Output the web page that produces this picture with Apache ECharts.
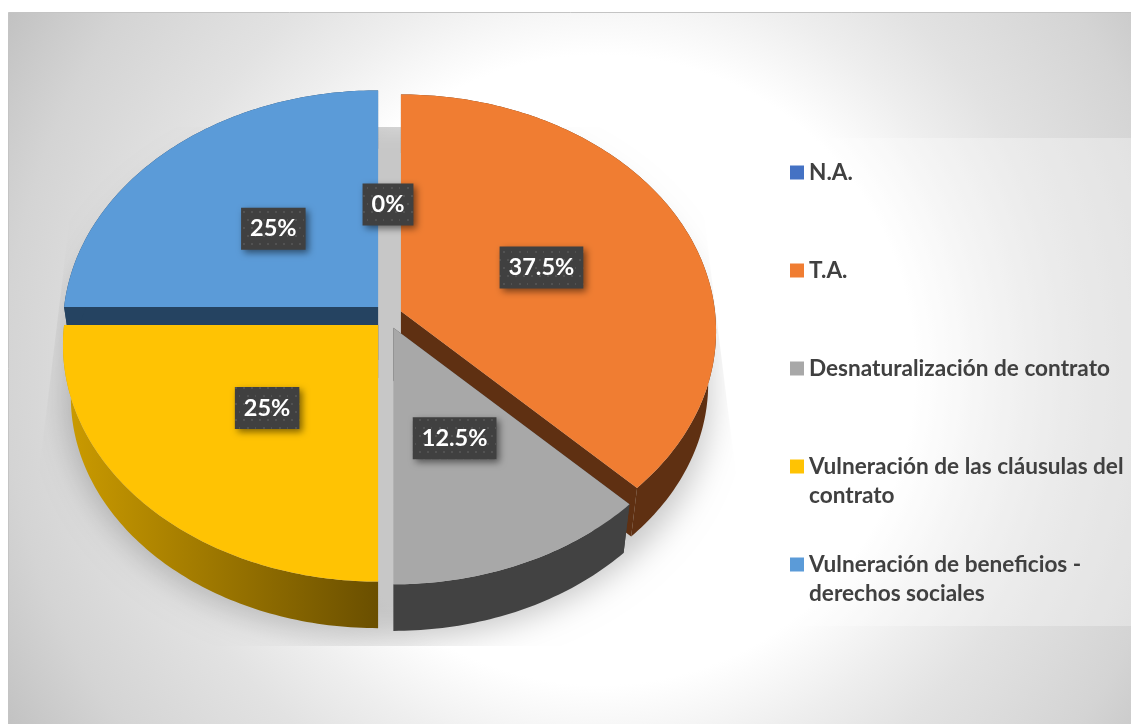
<!DOCTYPE html>
<html>
<head>
<meta charset="utf-8">
<style>
  html, body { margin: 0; padding: 0; background: #fff; }
  #chart { width: 1131px; height: 724px; }
</style>
<script src="https://cdn.jsdelivr.net/npm/echarts@6/dist/echarts.min.js"></script>
</head>
<body>
<div id="chart"></div>
<script>
const categories = [
  "N.A.",
  "T.A.",
  "Desnaturalización de contrato",
  "Vulneración de las cláusulas del\ncontrato",
  "Vulneración de beneficios -\nderechos sociales",
];
const values = [0, 37.5, 12.5, 25, 25];
const topColors = ["#4472C4", "#F07D32", "#A8A8A8", "#FFC303", "#5B9BD8"];
const sideColors = ["#264478", "#5F3012", "#424242", "#6A4F00", "#254361"];

// draw back to front
const drawOrder = [4, 0, 1, 2, 3];

// pie geometry, the top face is a tilted circle seen in perspective
const center = { x: 388, y: 316 };
const radiusX = 314;
const radiusY = 235;
const tilt = 0.0844;
const explode = 14;
const baseScale = 0.975;
const baseDrop = 53;
const total = values.reduce((a, b) => a + b, 0);

const angles = [];
values.reduce((sum, v, i) => {
  angles[i] = [(sum / total) * Math.PI * 2, ((sum + v) / total) * Math.PI * 2];
  return sum + v;
}, 0);

function apexOf(i) {
  const mid = (angles[i][0] + angles[i][1]) / 2;
  const e = values[i] ? explode : explode / 4;
  return {
    x: center.x + e * Math.sin(mid),
    y: center.y - e * Math.cos(mid) * 0.9,
  };
}

function project(apex, a, scale, drop) {
  const d = 1 + tilt * Math.cos(a);
  return [
    apex.x + (radiusX * Math.sin(a) * scale) / d,
    apex.y - (radiusY * Math.cos(a) * scale) / d + drop,
  ];
}

function arc(apex, a0, a1, scale, drop) {
  const pts = [];
  const n = Math.max(2, Math.ceil((a1 - a0) * 60));
  for (let j = 0; j <= n; j++) {
    pts.push(project(apex, a0 + ((a1 - a0) * j) / n, scale, drop));
  }
  return pts;
}

function poly(points, fill) {
  return { type: "polygon", shape: { points: points }, style: { fill: fill, stroke: null } };
}

function renderSlice(i) {
  const [a0, a1] = angles[i];
  const apex = apexOf(i);
  if (!values[i]) return { type: "group", children: [] };
  const top = arc(apex, a0, a1, 1, 0);
  const base = arc(apex, a0, a1, baseScale, baseDrop);
  const baseApex = [apex.x, apex.y + baseDrop];
  const topApex = [apex.x, apex.y];
  let sideFill = sideColors[i];
  if (i === 3) {
    sideFill = new echarts.graphic.LinearGradient(0, 0, 1, 0, [
      { offset: 0, color: "#CC9C00" },
      { offset: 1, color: "#6A4F00" },
    ]);
  }
  return {
    type: "group",
    children: [
      poly([topApex, top[0], base[0], baseApex], sideColors[i]),
      poly([topApex, top[top.length - 1], base[base.length - 1], baseApex], sideColors[i]),
      poly(top.concat(base.slice().reverse()), sideFill),
      poly([topApex].concat(top), topColors[i]),
    ],
  };
}

// dotted fill for the label boxes
function dots() {
  const c = document.createElement("canvas");
  c.width = 16;
  c.height = 16;
  const g = c.getContext("2d");
  g.fillStyle = "#404040";
  g.fillRect(0, 0, 16, 16);
  g.fillStyle = "#525252";
  g.fillRect(3, 3, 2, 2);
  g.fillRect(11, 3, 2, 2);
  g.fillRect(7, 11, 2, 2);
  g.fillRect(15, 11, 1, 2);
  return c;
}
const dotCanvas = dots();
const labelFont = "bold 23.5px Lato";
const measure = document.createElement("canvas").getContext("2d");

function renderLabels() {
  measure.font = labelFont;
  const children = [];
  values.forEach((v, i) => {
    const mid = (angles[i][0] + angles[i][1]) / 2;
    const apex = apexOf(i);
    const edge = project(apex, mid, 1, 0);
    const ratio = Math.cos(mid) < 0 ? 0.47 : 0.5;
    const cx = apex.x + (edge[0] - apex.x) * ratio;
    const cy = apex.y + (edge[1] - apex.y) * ratio;
    const text = v + "%";
    const w = measure.measureText(text).width + 18;
    const h = 42;
    children.push({
      type: "rect",
      shape: { x: cx - w / 2, y: cy - h / 2, width: w, height: h },
      style: {
        fill: { image: dotCanvas, repeat: "repeat" },
        shadowBlur: 7,
        shadowOffsetX: 3,
        shadowOffsetY: 3,
        shadowColor: "rgba(0,0,0,0.5)",
      },
    });
    children.push({
      type: "text",
      style: {
        text: text,
        x: cx,
        y: cy,
        align: "center",
        verticalAlign: "middle",
        font: labelFont,
        fill: "#fff",
      },
    });
  });
  return { type: "group", children: children };
}

// soft shadow on the floor, cut off by a trapezoid like in the original
function renderFloorShadow() {
  const away = 2000;
  const pts = [];
  for (let j = 0; j < 120; j++) {
    const a = (j / 120) * Math.PI * 2;
    const apex = { x: 388 - away, y: Math.cos(a) > 0 ? 336 : 378 };
    pts.push(project(apex, a, 1.02, 0));
  }
  return {
    type: "polygon",
    shape: { points: pts },
    style: {
      fill: "#000",
      shadowColor: "rgba(0,0,0,0.22)",
      shadowBlur: 32,
      shadowOffsetX: away,
    },
    clipPath: {
      type: "polygon",
      shape: { points: [[81, 127], [693, 127], [757, 646], [18, 646]] },
    },
  };
}

const pieSeries = drawOrder.map((i) => ({
  name: categories[i],
  type: "custom",
  coordinateSystem: "none",
  silent: true,
  z: 3,
  itemStyle: { color: topColors[i] },
  data: [values[i]],
  renderItem: () => renderSlice(i),
}));

const chart = echarts.init(document.getElementById("chart"));
chart.setOption({
  animation: false,
  graphic: [
    {
      type: "rect",
      z: 0,
      shape: { x: 8.5, y: 12.5, width: 1130, height: 720 },
      style: {
        fill: {
          type: "radial",
          x: 600,
          y: 370,
          r: 700,
          global: true,
          colorStops: [
            { offset: 0, color: "#ffffff" },
            { offset: 0.45, color: "#ffffff" },
            { offset: 0.57, color: "#eeeeee" },
            { offset: 0.67, color: "#e2e2e2" },
            { offset: 0.85, color: "#d4d4d4" },
            { offset: 0.92, color: "#cbcbcb" },
            { offset: 1, color: "#c0c0c0" },
          ],
        },
        stroke: "#c4c4c4",
        lineWidth: 1,
      },
    },
    {
      type: "rect",
      z: 1,
      shape: { x: 782, y: 138, width: 349, height: 488 },
      style: { fill: "rgba(255,255,255,0.3)" },
    },
  ],
  legend: {
    orient: "vertical",
    left: 790,
    top: 129,
    padding: 0,
    itemWidth: 14,
    itemHeight: 14,
    itemGap: 11,
    selectedMode: false,
    icon: "rect",
    data: categories.map((name, i) => ({ name: name, itemStyle: { color: topColors[i] } })),
    formatter: (name) => "\n" + name + (name.includes("\n") ? "" : "\n"),
    textStyle: {
      fontFamily: "Lato",
      fontWeight: "bold",
      fontSize: 22.6,
      lineHeight: 29,
      color: "#404040",
    },
  },
  series: [
    {
      type: "custom",
      coordinateSystem: "none",
      silent: true,
      z: 2,
      data: [0],
      renderItem: renderFloorShadow,
    },
    ...pieSeries,
    {
      type: "custom",
      coordinateSystem: "none",
      silent: true,
      z: 6,
      data: [0],
      renderItem: renderLabels,
    },
  ],
});
</script>
</body>
</html>
